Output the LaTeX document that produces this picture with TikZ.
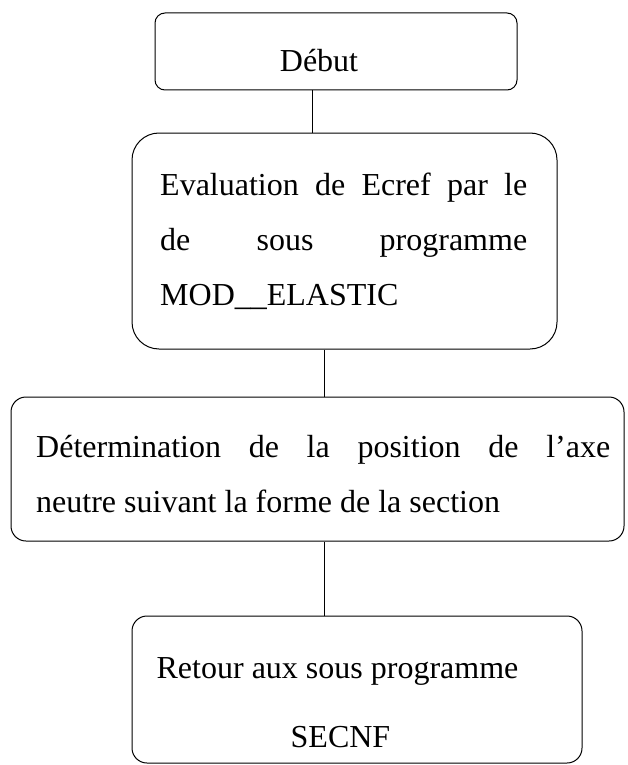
\documentclass[tikz,border=0pt]{standalone}
\usepackage{fontspec}
\setmainfont{Liberation Serif}
\usepackage{tikz}
\usetikzlibrary{positioning}

\tikzset{
    box/.style={draw, line width=1pt, rounded corners=#1, inner sep=0pt},
    box/.default=15pt,
    txt/.style={inner sep=0pt, font=\fontsize{32}{55}\selectfont},
    link/.style={draw, line width=1pt}
}

\begin{document}
\begin{tikzpicture}[x=1pt, y=-1pt]
    \useasboundingbox (0,0) rectangle (627,765);

    % the four boxes of the flowchart
    \node[box=10pt, minimum width=362pt, minimum height=77pt] (debut) at (336,51.5) {};
    \node[box=27pt, minimum width=425pt, minimum height=216pt] (ecref) at (344.5,241) {};
    \node[box, minimum width=613pt, minimum height=144pt] (axe) at (317.5,469) {};
    \node[box, minimum width=450pt, minimum height=147pt] (retour) at (357,689.5) {};

    % texts, line by line
    \node[txt, anchor=base] (t1) at (319,72) {Début};
    \node[txt, anchor=base west] (t2a) at (160,195) {\makebox[367pt][s]{Evaluation de Ecref par le}};
    \node[txt, anchor=base west] (t2b) at (160,250) {\makebox[367pt][s]{de sous programme}};
    \node[txt, anchor=base west] (t2c) at (160,305) {MOD\_\_ELASTIC};
    \node[txt, anchor=base west] (t3a) at (36,457) {\makebox[574pt][s]{Détermination de la position de l’axe}};
    \node[txt, anchor=base west] (t3b) at (36,512) {neutre suivant la forme de la section};
    \node[txt, anchor=base] (t4a) at (337.5,678) {Retour aux sous programme};
    \node[txt, anchor=base] (t4b) at (340.5,747) {SECNF};

    % connectors
    \coordinate (c1) at (312,0);
    \coordinate (c2) at (324,0);
    \draw[link] (c1 |- debut.south) -- (c1 |- ecref.north);
    \draw[link] (c2 |- ecref.south) -- (c2 |- axe.north);
    \draw[link] (c2 |- axe.south) -- (c2 |- retour.north);
\end{tikzpicture}
\end{document}
